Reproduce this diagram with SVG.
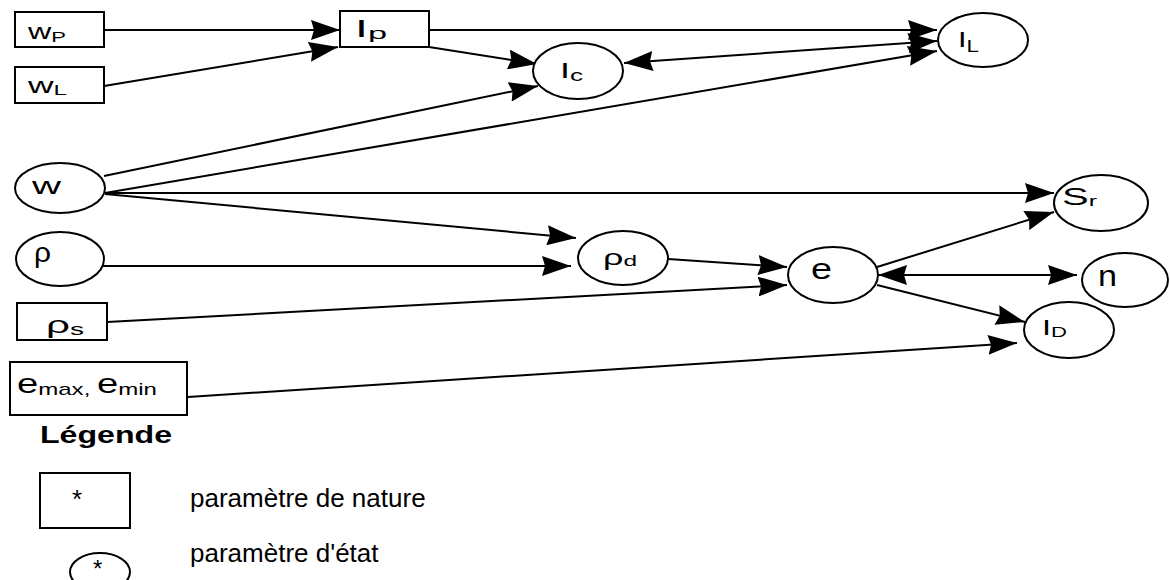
<svg xmlns="http://www.w3.org/2000/svg" width="1170" height="580" viewBox="0 0 1170 580">
  <style>
    .box { fill: #fff; stroke: #000; stroke-width: 2; }
    .st { fill: #fff; stroke: #000; stroke-width: 2; }
    .lbl { font-family: "Liberation Sans", Arial, sans-serif; fill: #000; }
    .edge { fill: none; stroke: #000; stroke-width: 2; marker-end: url(#arr); }
    .both { marker-start: url(#arr); }
  </style>
  <defs>
    <marker id="arr" markerUnits="userSpaceOnUse" markerWidth="29" markerHeight="20" refX="29" refY="10" orient="auto-start-reverse">
      <path d="M0,0 L29,10 L0,20 L3,10 Z" fill="#000"/>
    </marker>
  </defs>
  <rect width="1170" height="580" fill="#fff"/>

  <!-- connectors -->
  <g id="connectors">
    <path class="edge" d="M104,30 L340,30"/>
    <path class="edge" d="M104,86 L338,47"/>
    <path class="edge" d="M429,30 L937,30"/>
    <path class="edge" d="M429,47 L537,64"/>
    <path class="edge both" d="M624,63 L937,41"/>
    <path class="edge" d="M104,176 L538,86"/>
    <path class="edge" d="M105,193 L937,51"/>
    <path class="edge" d="M105,193 L1054,193"/>
    <path class="edge" d="M105,194 L576,238"/>
    <path class="edge" d="M103,266 L571,266"/>
    <path class="edge" d="M107,322 L787,285"/>
    <path class="edge" d="M668,259 L787,267"/>
    <path class="edge" d="M877,267 L1054,212"/>
    <path class="edge both" d="M878,275 L1077,275"/>
    <path class="edge" d="M877,285 L1025,322"/>
    <path class="edge" d="M188,397 L1017,343"/>
  </g>

  <!-- nature parameters (boxes) -->
  <g id="wP">
    <rect class="box" x="15" y="12" width="89" height="35"/>
    <text class="lbl" x="28" y="39" font-size="22" textLength="38" lengthAdjust="spacingAndGlyphs">w<tspan font-size="15" dy="3">P</tspan></text>
  </g>
  <g id="wL">
    <rect class="box" x="15" y="67" width="89" height="36"/>
    <text class="lbl" x="28" y="93" font-size="22" textLength="39" lengthAdjust="spacingAndGlyphs">w<tspan font-size="15" dy="2">L</tspan></text>
  </g>
  <g id="IP">
    <rect class="box" x="340" y="11" width="89" height="36"/>
    <text class="lbl" x="355" y="37" font-size="23" textLength="32" lengthAdjust="spacingAndGlyphs">I<tspan font-size="17" dy="2">p</tspan></text>
  </g>
  <g id="rhoS">
    <rect class="box" x="17" y="303" width="90" height="37"/>
    <text class="lbl" x="46" y="333" font-size="24" textLength="38" lengthAdjust="spacingAndGlyphs">ρ<tspan font-size="16" dy="2">s</tspan></text>
  </g>
  <g id="eMaxMin">
    <rect class="box" x="10" y="362" width="177" height="53"/>
    <text class="lbl" x="17" y="393" font-size="27" textLength="140" lengthAdjust="spacingAndGlyphs">e<tspan font-size="17" dy="2">max, </tspan><tspan dy="-2">e</tspan><tspan font-size="17" dy="2">min</tspan></text>
  </g>

  <!-- state parameters (ellipses) -->
  <g id="IC">
    <ellipse class="st" cx="578" cy="71" rx="45" ry="28"/>
    <text class="lbl" x="560" y="78" font-size="22" textLength="23" lengthAdjust="spacingAndGlyphs">I<tspan font-size="16" dy="3">c</tspan></text>
  </g>
  <g id="IL">
    <ellipse class="st" cx="983" cy="40" rx="45" ry="27"/>
    <text class="lbl" x="958" y="47" font-size="22" textLength="21" lengthAdjust="spacingAndGlyphs">I<tspan font-size="16" dy="5">L</tspan></text>
  </g>
  <g id="w">
    <ellipse class="st" cx="60" cy="188" rx="45" ry="25"/>
    <text class="lbl" x="32" y="194" font-size="24" textLength="29" lengthAdjust="spacingAndGlyphs">w</text>
  </g>
  <g id="rho">
    <ellipse class="st" cx="60" cy="259" rx="44" ry="27"/>
    <text class="lbl" x="34" y="262" font-size="27" textLength="17" lengthAdjust="spacingAndGlyphs">ρ</text>
  </g>
  <g id="rhoD">
    <ellipse class="st" cx="623" cy="258" rx="45" ry="27"/>
    <text class="lbl" x="603" y="265" font-size="22" textLength="34" lengthAdjust="spacingAndGlyphs">ρ<tspan font-size="15" dy="1">d</tspan></text>
  </g>
  <g id="e">
    <ellipse class="st" cx="833" cy="275" rx="45" ry="28"/>
    <text class="lbl" x="811" y="279" font-size="29" textLength="21" lengthAdjust="spacingAndGlyphs">e</text>
  </g>
  <g id="Sr">
    <ellipse class="st" cx="1101" cy="203" rx="47" ry="28"/>
    <text class="lbl" x="1062" y="205" font-size="24" textLength="35" lengthAdjust="spacingAndGlyphs">S<tspan font-size="15" dy="1">r</tspan></text>
  </g>
  <g id="n">
    <ellipse class="st" cx="1125" cy="280" rx="43" ry="27"/>
    <text class="lbl" x="1098" y="286" font-size="29" textLength="19" lengthAdjust="spacingAndGlyphs">n</text>
  </g>
  <g id="ID">
    <ellipse class="st" cx="1069" cy="330" rx="45" ry="28"/>
    <text class="lbl" x="1042" y="335" font-size="22" textLength="25" lengthAdjust="spacingAndGlyphs">I<tspan font-size="15" dy="2">D</tspan></text>
  </g>

  <!-- key -->
  <g id="legend">
    <text class="lbl" x="40" y="443" font-size="24" font-weight="bold" textLength="132" lengthAdjust="spacingAndGlyphs">Légende</text>
    <rect class="box" x="40" y="473" width="90" height="55"/>
    <text class="lbl" x="72" y="508" font-size="26">*</text>
    <text class="lbl" x="190" y="507" font-size="26">paramètre de nature</text>
    <ellipse class="st" cx="100" cy="572" rx="30" ry="19"/>
    <text class="lbl" x="93" y="577" font-size="24">*</text>
    <text class="lbl" x="190" y="562" font-size="26">paramètre d'état</text>
  </g>
</svg>
